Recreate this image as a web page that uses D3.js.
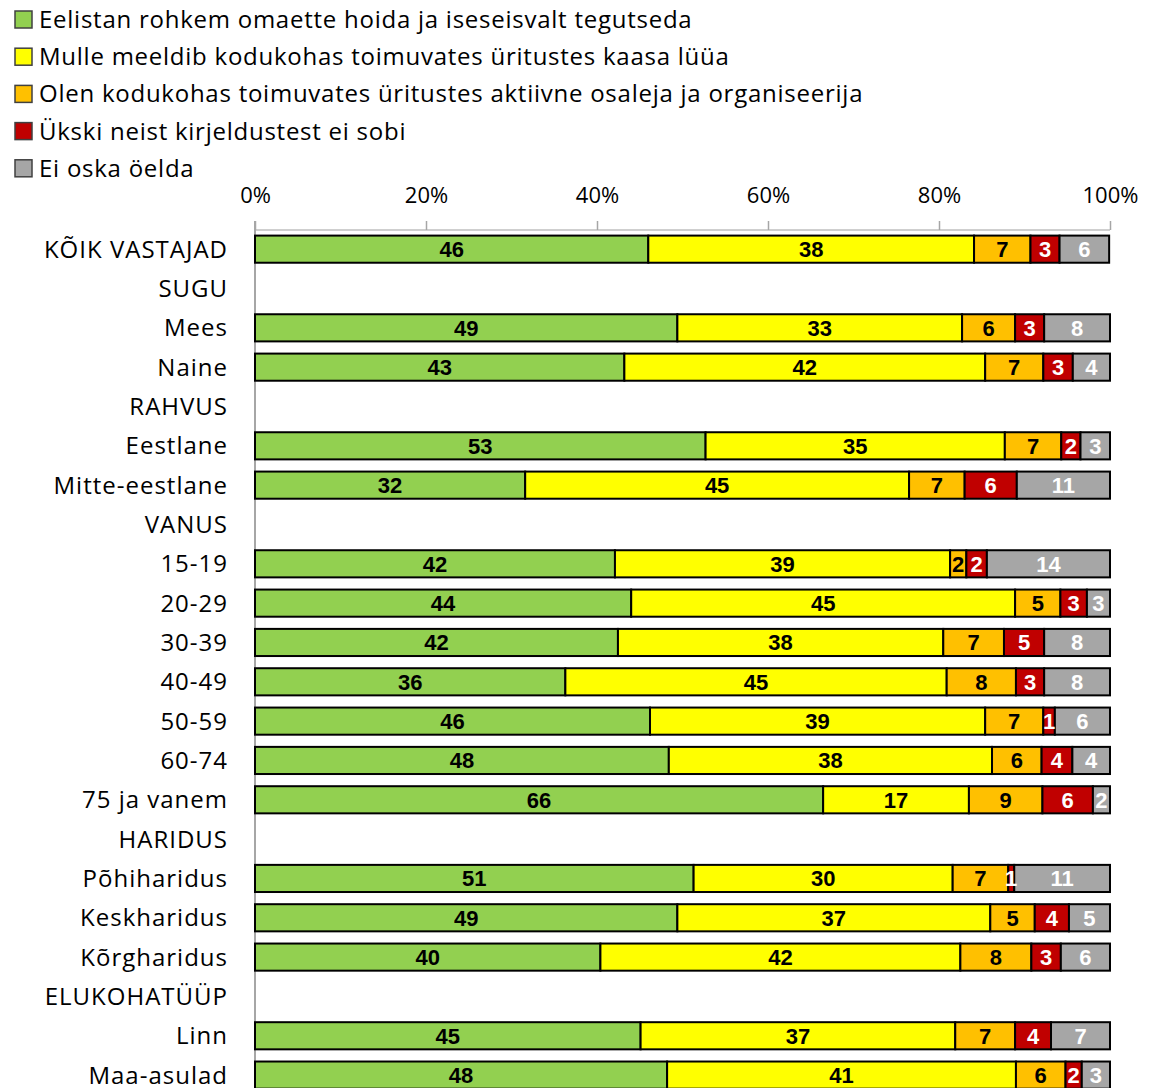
<!DOCTYPE html>
<html>
<head>
<meta charset="utf-8">
<script src="https://cdn.jsdelivr.net/npm/d3@7"></script>
<style>
  body { margin: 0; background: #fff; }
</style>
</head>
<body>
<div id="chart"></div>
<script>
// categories top to bottom, group headers have no bars
var categories = ["KÕIK VASTAJAD", "SUGU", "Mees", "Naine", "RAHVUS", "Eestlane", "Mitte-eestlane",
    "VANUS", "15-19", "20-29", "30-39", "40-49", "50-59", "60-74", "75 ja vanem",
    "HARIDUS", "Põhiharidus", "Keskharidus", "Kõrgharidus", "ELUKOHATÜÜP", "Linn", "Maa-asulad"];

var seriesNames = ["Eelistan rohkem omaette hoida ja iseseisvalt tegutseda",
    "Mulle meeldib kodukohas toimuvates üritustes kaasa lüüa",
    "Olen kodukohas toimuvates üritustes aktiivne osaleja ja organiseerija",
    "Ükski neist kirjeldustest ei sobi",
    "Ei oska öelda"];

var omaette   = [46.0, null, 49.4, 43.2, null, 52.7, 31.6, null, 42.1, 44.0, 42.45, 36.3, 46.2, 48.4, 66.45, null, 51.3, 49.4, 40.4, null, 45.1, 48.2];
var kaasa     = [38.1, null, 33.3, 42.2, null, 35.0, 44.9, null, 39.2, 44.9, 38.05, 44.6, 39.2, 37.8, 17.05, null, 30.3, 36.6, 42.1, null, 36.8, 40.8];
var aktiivne  = [6.6, null, 6.2, 6.8, null, 6.6, 6.5, null, 1.9, 5.3, 7.1, 8.1, 6.8, 5.8, 8.6, null, 6.5, 5.2, 8.3, null, 7.0, 5.8];
var eiSobi    = [3.4, null, 3.4, 3.45, null, 2.25, 6.1, null, 2.4, 3.1, 4.7, 3.3, 1.35, 3.6, 5.9, null, 0.7, 4.0, 3.45, null, 4.2, 1.9];
var eiOska    = [5.8, null, 7.7, 4.35, null, 3.45, 10.9, null, 14.4, 2.7, 7.7, 7.7, 6.45, 4.4, 2.0, null, 11.2, 4.8, 5.75, null, 6.9, 3.3];

var xTicks = [0, 20, 40, 60, 80, 100];

var colors = ["#92D050", "#FFFF00", "#FFC000", "#C00000", "#A6A6A6"];
var labelColors = ["#000", "#000", "#000", "#fff", "#fff"];

var width = 1149, height = 1088;
var margin = {left: 255, right: 39, top: 230};
var textFont = "Open Sans";

var svg = d3.select("#chart").append("svg")
    .attr("width", width)
    .attr("height", height);

// legend
var legend = svg.append("g");
seriesNames.forEach(function (name, i) {
    var g = legend.append("g").attr("transform", "translate(0," + (i * 37.2) + ")");
    g.append("rect")
        .attr("x", 15).attr("y", 11).attr("width", 17).attr("height", 17)
        .attr("fill", colors[i]).attr("stroke", "#404040").attr("stroke-width", 1.5);
    g.append("text")
        .attr("x", 39).attr("y", 28)
        .style("font-family", textFont).style("font-size", "24px").style("letter-spacing", "0.75px")
        .style("fill", "#000")
        .text(name);
});

var x = d3.scaleLinear().domain([0, 100]).range([margin.left, width - margin.right]);

var y = d3.scaleBand()
    .domain(categories)
    .range([229.5, 229.5 + 39.33 * categories.length])
    .paddingInner(0.31)
    .paddingOuter(0.155);

// top axis
var xAxis = d3.axisTop(x).tickValues(xTicks).tickSize(9).tickFormat(function (d) { return d + "%"; });
var ax = svg.append("g").attr("transform", "translate(0," + margin.top + ")").call(xAxis);
ax.select(".domain").attr("stroke", "#BFBFBF").attr("stroke-width", 1.5).attr("d", "M" + x(0) + ",0H" + x(100));
ax.selectAll(".tick line").attr("stroke", "#A6A6A6").attr("stroke-width", 1.5);
ax.selectAll(".tick text")
    .attr("y", -27)
    .style("font-family", textFont).style("font-size", "22px").style("fill", "#000");

// vertical axis line
svg.append("line")
    .attr("x1", x(0)).attr("x2", x(0))
    .attr("y1", margin.top - 9).attr("y2", height)
    .attr("stroke", "#A6A6A6").attr("stroke-width", 2);

// category labels
svg.append("g").selectAll("text")
    .data(categories)
    .enter().append("text")
    .attr("x", 228)
    .attr("y", function (d) { return y(d) + y.bandwidth() / 2 + 8.5; })
    .attr("text-anchor", "end")
    .style("font-family", textFont).style("font-size", "24px").style("letter-spacing", "1px")
    .style("fill", "#000")
    .text(function (d) { return d; });

// stacked bars
var series = [omaette, kaasa, aktiivne, eiSobi, eiOska];
var rows = [];
categories.forEach(function (c, i) {
    if (omaette[i] === null) return;
    var start = 0;
    series.forEach(function (s, k) {
        rows.push({cat: c, k: k, x0: start, x1: start + s[i], v: s[i]});
        start += s[i];
    });
});

var bars = svg.append("g");
bars.selectAll("rect")
    .data(rows)
    .enter().append("rect")
    .attr("x", function (d) { return x(d.x0); })
    .attr("y", function (d) { return y(d.cat); })
    .attr("width", function (d) { return x(d.x1) - x(d.x0); })
    .attr("height", y.bandwidth())
    .attr("fill", function (d) { return colors[d.k]; })
    .attr("stroke", "#000")
    .attr("stroke-width", 2);

bars.selectAll("text")
    .data(rows)
    .enter().append("text")
    .attr("x", function (d) { return (x(d.x0) + x(d.x1)) / 2; })
    .attr("y", function (d) { return y(d.cat) + y.bandwidth() / 2 + 8; })
    .attr("text-anchor", "middle")
    .style("font-family", "Liberation Sans").style("font-weight", "bold").style("font-size", "22px")
    .style("fill", function (d) { return labelColors[d.k]; })
    .text(function (d) { return Math.round(d.v); });
</script>
</body>
</html>
